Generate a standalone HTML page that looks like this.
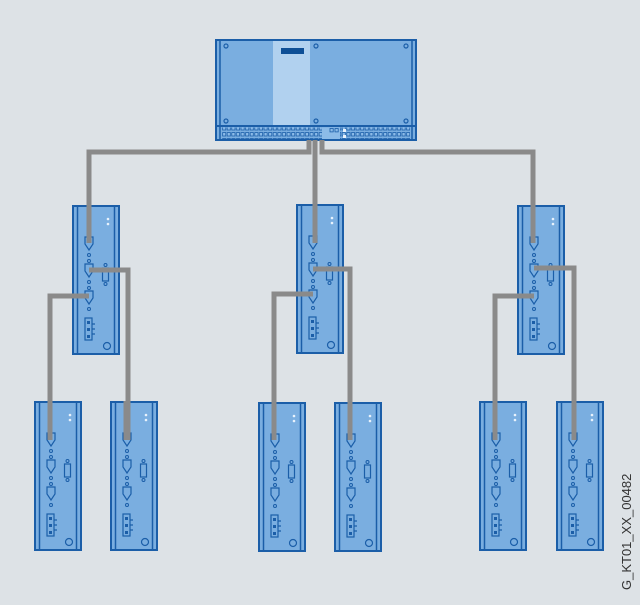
<!DOCTYPE html>
<html><head><meta charset="utf-8"><style>
html,body{margin:0;padding:0;background:#dde2e6;}
svg{display:block}
</style></head><body>
<svg width="640" height="605" viewBox="0 0 640 605" xmlns="http://www.w3.org/2000/svg">
<defs>
<pattern id="ports" x="222" y="0" width="4.6" height="6" patternUnits="userSpaceOnUse">
<rect x="0.6" y="0.6" width="3.2" height="3.4" fill="#8cbbe8" stroke="#1b5ea8" stroke-width="0.8"/>
</pattern>
<g id="conn">
<path d="M0,0 H8 V7 L4,13 L0,7 Z" fill="#7aaee0" stroke="#1b5ea8" stroke-width="1.2"/>
</g>
<g id="mod">
<rect x="1" y="1" width="46" height="148" fill="#7aaee0" stroke="#1b5ea8" stroke-width="2"/>
<line x1="5.5" y1="1" x2="5.5" y2="149" stroke="#1b5ea8" stroke-width="1.5"/>
<line x1="42.5" y1="1" x2="42.5" y2="149" stroke="#1b5ea8" stroke-width="1.5"/>
<circle cx="36" cy="14" r="1.3" fill="#e8f2fc"/>
<circle cx="36" cy="19" r="1.3" fill="#e8f2fc"/>
<use href="#conn" x="13" y="32"/>
<circle cx="17" cy="50" r="1.5" fill="none" stroke="#1b5ea8"/>
<circle cx="17" cy="56" r="1.5" fill="none" stroke="#1b5ea8"/>
<use href="#conn" x="13" y="59"/>
<circle cx="17" cy="77" r="1.5" fill="none" stroke="#1b5ea8"/>
<circle cx="17" cy="83" r="1.5" fill="none" stroke="#1b5ea8"/>
<use href="#conn" x="13" y="86"/>
<circle cx="17" cy="104" r="1.5" fill="none" stroke="#1b5ea8"/>
<circle cx="33.5" cy="60" r="1.5" fill="none" stroke="#1b5ea8"/>
<rect x="30.5" y="63" width="6" height="13" fill="#7aaee0" stroke="#1b5ea8" stroke-width="1.2"/>
<circle cx="33.5" cy="79" r="1.5" fill="none" stroke="#1b5ea8"/>
<rect x="13" y="113" width="7" height="22" fill="#7aaee0" stroke="#1b5ea8" stroke-width="1.2"/>
<rect x="15" y="116" width="3" height="3" fill="#1b5ea8"/>
<rect x="15" y="123" width="3" height="3" fill="#1b5ea8"/>
<rect x="15" y="130" width="3" height="3" fill="#1b5ea8"/>
<path d="M20,119 h3 M20,124 h3 M20,129 h3" stroke="#1b5ea8" stroke-width="1.2"/>
<circle cx="35" cy="141" r="3.5" fill="none" stroke="#1b5ea8" stroke-width="1.2"/>
</g>
</defs>

<!-- top device -->
<rect x="216" y="40" width="200" height="100" fill="#7aaee0" stroke="#1b5ea8" stroke-width="2"/>
<rect x="273" y="41" width="37" height="85" fill="#b1d1ef"/>
<rect x="281" y="48" width="23" height="6" fill="#0e4f96"/>
<line x1="220" y1="41" x2="220" y2="139" stroke="#1b5ea8" stroke-width="1.5"/>
<line x1="412" y1="41" x2="412" y2="139" stroke="#1b5ea8" stroke-width="1.5"/>
<line x1="217" y1="126" x2="415" y2="126" stroke="#1b5ea8" stroke-width="1.5"/>
<g fill="none" stroke="#1b5ea8" stroke-width="1.2">
<circle cx="226" cy="46" r="2"/><circle cx="316" cy="46" r="2"/><circle cx="406" cy="46" r="2"/>
<circle cx="226" cy="121" r="2"/><circle cx="316" cy="121" r="2"/><circle cx="406" cy="121" r="2"/>
</g>
<rect x="222" y="127.5" width="188" height="12" fill="url(#ports)"/>
<rect x="322" y="127.5" width="18" height="12" fill="#8cbbe8"/>
<rect x="343" y="129" width="3" height="3" fill="#e8f2fc"/><rect x="343" y="135" width="3" height="3" fill="#e8f2fc"/>
<rect x="330" y="128.5" width="3.2" height="3.4" fill="#8cbbe8" stroke="#1b5ea8" stroke-width="0.8"/>
<rect x="335" y="128.5" width="3.2" height="3.4" fill="#8cbbe8" stroke="#1b5ea8" stroke-width="0.8"/>
<rect x="216" y="126" width="200" height="14" fill="none" stroke="#1b5ea8" stroke-width="2"/>

<!-- modules -->
<use href="#mod" x="72" y="205"/>
<use href="#mod" x="296" y="204"/>
<use href="#mod" x="517" y="205"/>
<use href="#mod" x="34" y="401"/>
<use href="#mod" x="110" y="401"/>
<use href="#mod" x="258" y="402"/>
<use href="#mod" x="334" y="402"/>
<use href="#mod" x="479" y="401"/>
<use href="#mod" x="556" y="401"/>

<!-- cables -->
<g fill="none" stroke="#8a8a8a" stroke-width="5" stroke-linejoin="miter">
<path d="M309,140 V152 H89 V243"/>
<path d="M315,140 V243"/>
<path d="M322,140 V152 H533 V243"/>
<path d="M89,270 H128 V440"/>
<path d="M89,296 H50 V440"/>
<path d="M313,269 H350 V440"/>
<path d="M313,294 H274 V440"/>
<path d="M534,268 H574 V440"/>
<path d="M534,296 H495 V440"/>
<path d="M126,401 V440"/>
</g>

<text x="631" y="590" transform="rotate(-90 631 590)" font-family="Liberation Sans, sans-serif" font-size="13" fill="#333">G_KT01_XX_00482</text>
</svg>
</body></html>
